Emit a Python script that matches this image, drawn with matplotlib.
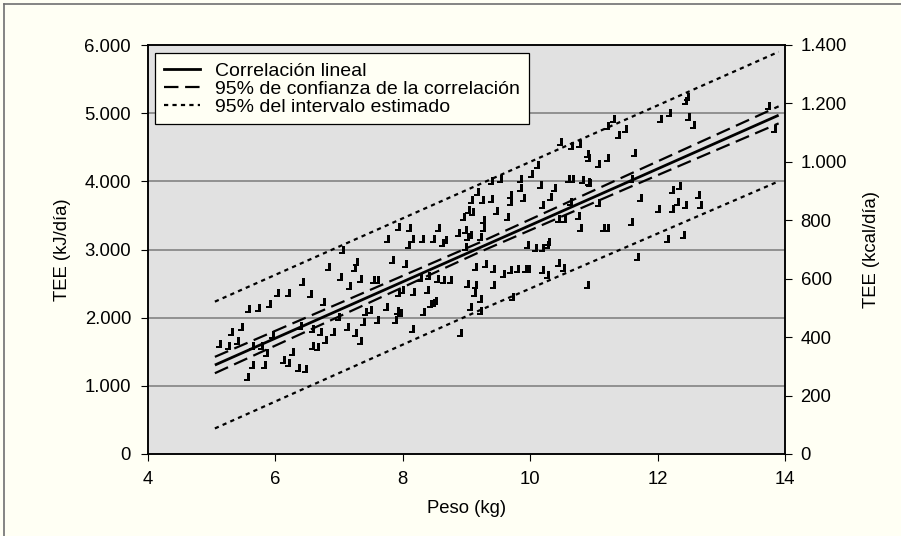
import matplotlib
matplotlib.use("Agg")
import matplotlib.pyplot as plt
from matplotlib.path import Path
from matplotlib.lines import Line2D
from matplotlib.ticker import FixedLocator, FuncFormatter

# ---------------- data ----------------
weight_kg = [
    5.11, 5.25, 5.30, 5.39, 5.46, 5.57, 5.73, 5.90, 6.03, 6.19,
    6.41, 6.54, 6.75, 6.83, 7.01, 7.04, 7.16, 7.27, 7.23, 7.33,
    7.53, 7.60, 7.75, 7.83, 7.93, 8.03,
    5.63, 5.77, 5.94, 5.86, 5.63, 5.56, 5.82, 6.12, 6.26, 6.20,
    6.36, 6.46, 6.39, 6.57, 6.65, 6.70, 6.78, 6.91, 6.99, 7.13,
    7.25, 7.33, 7.41, 7.38, 7.49, 7.59, 7.74, 7.88, 7.91, 7.96,
    8.14, 6.57,
    8.08, 8.16, 8.38, 8.48, 8.32, 8.27, 8.40, 8.54, 8.63, 8.74,
    7.92, 7.99, 8.43, 8.51, 8.90, 8.09, 8.14, 8.30, 8.55, 8.48,
    8.61, 8.66, 8.87, 8.98, 9.00, 9.05, 8.98, 9.26, 9.21,
    10.47, 10.64, 10.76, 10.89, 10.91, 10.10, 10.02, 9.84, 9.84, 9.53,
    9.38, 10.60, 10.65, 10.81, 10.91, 10.15, 10.37, 10.31, 9.16, 9.07,
    9.25, 9.38, 9.68, 9.68, 9.89, 10.18, 9.03, 9.08, 8.95, 9.26,
    9.47, 9.63, 10.44, 10.53, 10.62, 10.75, 10.78, 9.95, 10.08, 10.18,
    10.26, 10.28,
    9.13, 9.29, 9.42, 9.58, 9.68, 9.79, 9.92, 9.97, 10.18, 10.26,
    10.44, 10.52, 9.00, 9.13, 9.11, 9.21, 9.42, 9.05, 9.21, 10.89,
    9.71,
    12.46, 12.43, 12.04, 12.18, 12.47, 12.56, 13.73, 13.82, 11.30, 11.20,
    11.38, 11.49, 11.07, 11.20, 11.63, 10.92, 11.58, 11.07, 11.72, 12.22,
    12.33, 12.64, 12.01, 12.22, 12.30, 12.43, 12.67, 11.15, 11.20, 11.59,
    12.14, 12.40, 11.67,
]
tee_kj = [
    1610, 1580, 1790, 1660, 1860, 2130, 2140, 2200, 2360, 2360,
    2530, 2340, 2230, 2740, 2600, 2990, 2470, 2820, 2730, 2560,
    2550, 2550, 3160, 2850, 3330, 2790,
    1590, 1590, 1750, 1480, 1310, 1130, 1310, 1380, 1500, 1330,
    1260, 1250, 1880, 1590, 1570, 1790, 1670, 1790, 2010, 1870,
    1770, 1660, 2090, 1940, 2110, 1970, 2160, 1970, 2100, 2070,
    1840, 1840,
    3070, 2380, 2410, 2210, 2090, 2580, 2610, 2570, 2550, 2550,
    2360, 2410, 2200, 2250, 1780, 3310, 3160, 3160, 3310, 3160,
    3090, 3140, 3240, 3290, 3180, 3210, 3040, 3310, 3190,
    4580, 4520, 4550, 4400, 4340, 4240, 4110, 4040, 3900, 4030,
    4000, 4040, 4040, 4020, 3990, 3950, 3900, 3770, 3850, 3730,
    3730, 3740, 3800, 3700, 3750, 3650, 3580, 3550, 3470, 3440,
    3570, 3470, 3450, 3450, 3700, 3490, 3310, 3070, 3020, 3020,
    3070, 3110,
    2750, 2790, 2710, 2640, 2700, 2720, 2720, 2720, 2700, 2630,
    2800, 2730, 2500, 2480, 2360, 2280, 2480, 2150, 2100, 2480,
    2300,
    5240, 5180, 4920, 5000, 4950, 4830, 5100, 4770, 4910, 4810,
    4680, 4770, 4260, 4340, 4410, 3970, 4030, 3680, 3750, 3870,
    3930, 3800, 3590, 3600, 3700, 3650, 3650, 3320, 3310, 3410,
    3160, 3210, 2890,
]

fit_w = [5.05, 13.9]
fit_tee = [1305, 4970]

conf_w = [5.05, 7.1, 9.2, 11.5, 13.9]
conf_upper = [1425, 2250, 3100, 4080, 5100]
conf_lower = [1185, 2060, 2960, 3890, 4850]

pred_w = [5.05, 9.2, 13.9]
pred_upper = [2235, 3955, 5900]
pred_lower = [375, 2105, 4000]

x_ticks = [4, 6, 8, 10, 12, 14]
kj_ticks = [0, 1000, 2000, 3000, 4000, 5000, 6000]
kcal_ticks = [0, 200, 400, 600, 800, 1000, 1200, 1400]

legend_labels = ["Correlación lineal",
                 "95% de confianza de la correlación",
                 "95% del intervalo estimado"]

# ---------------- styling ----------------
FONT = ["Liberation Sans", "DejaVu Sans"]
plt.rcParams["font.family"] = FONT
plt.rcParams["font.size"] = 13.3

BG = "#FFFFF4"
PLOT_BG = "#E1E1E1"
GRID = "#8A8A8A"

def thousands(v, pos=None):
    return f"{int(round(v)):,}".replace(",", ".")

fig = plt.figure(figsize=(9.01, 5.36), dpi=100, facecolor=BG)
ax = fig.add_axes([148 / 901, 82 / 536, 637 / 901, 409 / 536])
ax.set_facecolor(PLOT_BG)

ax.set_xlim(4, 14)
ax.set_ylim(0, 6000)
ax.xaxis.set_major_locator(FixedLocator(x_ticks))
ax.yaxis.set_major_locator(FixedLocator(kj_ticks))
ax.yaxis.set_major_formatter(FuncFormatter(thousands))

for g in kj_ticks[1:-1]:
    ax.axhline(g, color=GRID, lw=1.3, zorder=0.5)

# note-like marker (stem on the right, small head bottom-left)
verts = [(0.0, 1.0), (0.62, 1.0), (0.62, -1.0), (-0.62, -1.0),
         (-0.62, -0.36), (0.0, -0.36), (0.0, 1.0)]
codes = [Path.MOVETO] + [Path.LINETO] * 5 + [Path.CLOSEPOLY]
note = Path(verts, codes)

ax.plot(weight_kg, tee_kj, linestyle="none", marker=note, markersize=6.2,
        markerfacecolor="black", markeredgewidth=0, color="black", zorder=2)

lw_s = 2.0
ax.plot(fit_w, fit_tee, color="black", lw=lw_s, zorder=3,
        solid_capstyle="butt")
dash = (0, (6.5, 3.0))
ax.plot(conf_w, conf_upper, color="black", lw=1.6, linestyle=dash, zorder=3,
        dash_capstyle="butt")
ax.plot(conf_w, conf_lower, color="black", lw=1.6, linestyle=dash, zorder=3,
        dash_capstyle="butt")
dot = (0, (1.9, 1.9))
ax.plot(pred_w, pred_upper, color="black", lw=1.6, linestyle=dot, zorder=3,
        dash_capstyle="butt")
ax.plot(pred_w, pred_lower, color="black", lw=1.6, linestyle=dot, zorder=3,
        dash_capstyle="butt")

for s in ax.spines.values():
    s.set_linewidth(1.1)
    s.set_color("black")

ax.tick_params(axis="both", direction="out", length=5.2, width=0.8,
               pad=7, labelsize=13.3, colors="black")

ax.set_xlabel("Peso (kg)", fontsize=13.3)
ax.xaxis.set_label_coords(0.5, -0.112)
ax.set_ylabel("TEE (kJ/día)", fontsize=13.3)
ax.yaxis.set_label_coords(-0.121, 0.5)

ax2 = ax.twinx()
ax2.set_ylim(0, 1400)
ax2.yaxis.set_major_locator(FixedLocator(kcal_ticks))
ax2.yaxis.set_major_formatter(FuncFormatter(thousands))
ax2.tick_params(axis="y", direction="out", length=5.2, width=0.8, pad=6,
                labelsize=13.3, colors="black")
for s in ax2.spines.values():
    s.set_linewidth(1.1)
ax2.set_ylabel("TEE (kcal/día)", fontsize=13.3)
ax2.yaxis.set_label_coords(1.122, 0.5)

handles = [
    Line2D([], [], color="black", lw=lw_s),
    Line2D([], [], color="black", lw=1.6, linestyle=dash),
    Line2D([], [], color="black", lw=1.6, linestyle=dot),
]
leg = ax2.legend(handles, legend_labels, loc="upper left",
                 bbox_to_anchor=(0.011, 0.98), borderaxespad=0,
                 frameon=True, fancybox=False, framealpha=1,
                 facecolor=BG, edgecolor="black", fontsize=14.0,
                 handlelength=1.85, handletextpad=0.8, labelspacing=0.02,
                 borderpad=0.45)
leg.get_frame().set_linewidth(0.9)

# outer frame lines (top and left)
fig.add_artist(Line2D([4 / 901, 1], [1 - 4 / 536, 1 - 4 / 536],
                      transform=fig.transFigure, color="#707070", lw=1.2))
fig.add_artist(Line2D([4 / 901, 4 / 901], [0, 1 - 4 / 536],
                      transform=fig.transFigure, color="#707070", lw=1.2))

fig.savefig("out.png", dpi=100, facecolor=BG)
